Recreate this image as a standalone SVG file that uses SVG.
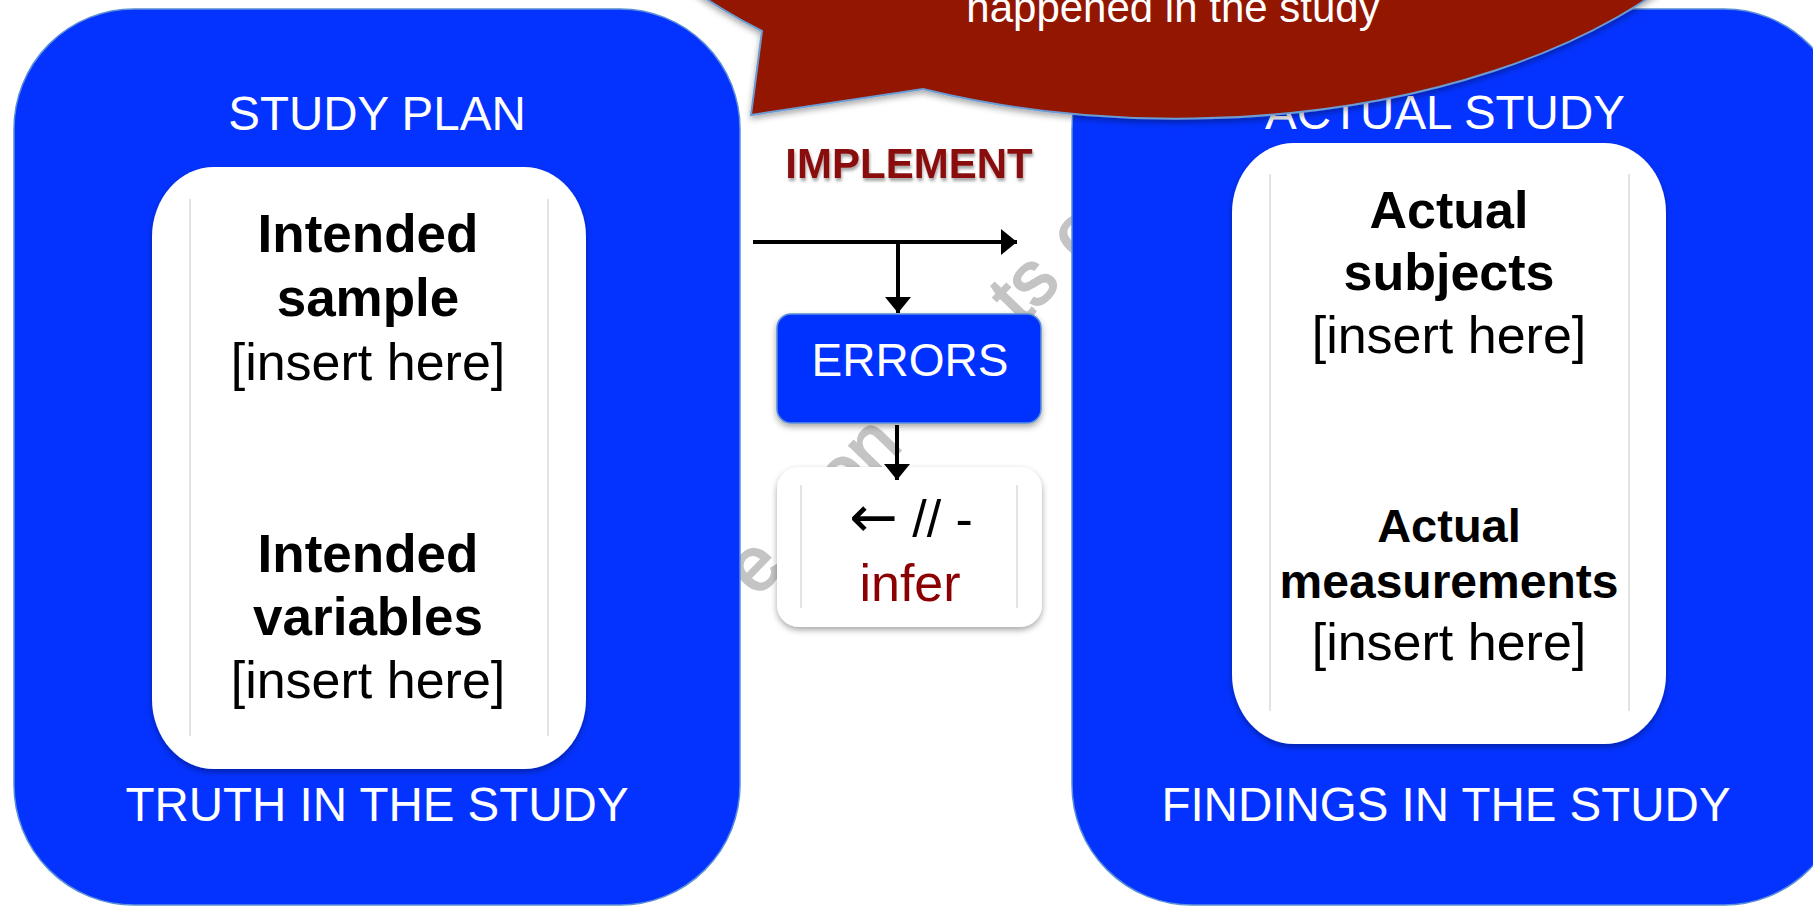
<svg xmlns="http://www.w3.org/2000/svg" width="1813" height="908" viewBox="0 0 1813 908">
<style>
.t{font-family:"Liberation Sans",Arial,Helvetica,sans-serif}
.hd{font-size:47.5px;text-anchor:middle;fill:#ffffff}
.bd{font-weight:bold;text-anchor:middle;fill:#000000}
.rg{font-size:52px;text-anchor:middle;fill:#000000}
.outer{fill:#0433ff;stroke:#5a8ed6;stroke-width:1.5}
.inner{fill:#ffffff}
.sep{stroke:#c8c8c8;stroke-width:1}
.conn{stroke:#000000;stroke-width:4;fill:none}
</style>
<defs>
<filter id="sh" x="-10%" y="-10%" width="120%" height="125%">
<feDropShadow dx="0" dy="3" stdDeviation="3" flood-color="#000000" flood-opacity="0.35"/>
</filter>
<filter id="tsh" x="-5%" y="-20%" width="110%" height="150%">
<feDropShadow dx="1" dy="3" stdDeviation="1.5" flood-color="#000000" flood-opacity="0.35"/>
</filter>
<marker id="ah" viewBox="0 0 16 26" refX="16" refY="13" markerWidth="16" markerHeight="26" markerUnits="userSpaceOnUse" orient="auto">
<path d="M0,0 L16,13 L0,26 z" fill="#000000"/>
</marker>
</defs>
<rect x="0" y="0" width="1813" height="908" fill="#ffffff"/>

<!-- watermark fragments (mostly hidden behind the boxes) -->
<text class="t" transform="translate(756.4,598.6) rotate(-45.8)" font-size="76" fill="#c4c4c4" stroke="#c4c4c4" stroke-width="2.2"><tspan x="0" y="0">e</tspan><tspan x="127" y="0">on</tspan><tspan x="380" y="0">ts</tspan><tspan x="465" y="0">o</tspan></text>

<g id="study-plan">
<rect class="outer" x="14" y="9" width="726" height="896" rx="120" ry="120"/>
<text class="t hd" x="377" y="130">STUDY PLAN</text>
<text class="t hd" x="377" y="821">TRUTH IN THE STUDY</text>
</g>
<g id="intended">
<rect class="inner" x="152" y="167" width="434" height="602" rx="62" ry="70" filter="url(#sh)"/>
<line class="sep" x1="190" y1="199" x2="190" y2="736"/>
<line class="sep" x1="548" y1="199" x2="548" y2="736"/>
<text class="t bd" x="368" y="252" font-size="53">Intended</text>
<text class="t bd" x="368" y="316" font-size="53">sample</text>
<text class="t rg" x="368" y="380">[insert here]</text>
<text class="t bd" x="368" y="572" font-size="53">Intended</text>
<text class="t bd" x="368" y="635" font-size="53">variables</text>
<text class="t rg" x="368" y="698">[insert here]</text>
</g>

<g id="actual-study">
<rect class="outer" x="1072" y="9" width="772" height="896" rx="120" ry="120"/>
<text class="t hd" x="1445" y="129">ACTUAL STUDY</text>
<text class="t hd" x="1446" y="821">FINDINGS IN THE STUDY</text>
</g>
<g id="actual">
<rect class="inner" x="1232" y="143" width="434" height="601" rx="62" ry="70" filter="url(#sh)"/>
<line class="sep" x1="1270" y1="174" x2="1270" y2="711"/>
<line class="sep" x1="1629" y1="174" x2="1629" y2="711"/>
<text class="t bd" x="1449" y="228" font-size="52">Actual</text>
<text class="t bd" x="1449" y="290" font-size="52">subjects</text>
<text class="t rg" x="1449" y="353">[insert here]</text>
<text class="t bd" x="1449" y="542" font-size="47">Actual</text>
<text class="t bd" x="1449" y="598" font-size="48">measurements</text>
<text class="t rg" x="1449" y="660">[insert here]</text>
</g>

<g id="implement">
<text class="t" x="909" y="178" font-size="42" font-weight="bold" text-anchor="middle" fill="#8a0b0b" filter="url(#tsh)">IMPLEMENT</text>
</g>

<g id="errors">
<rect x="777" y="314" width="264" height="109" rx="14" ry="14" fill="#0433ff" stroke="#5a8ed6" stroke-width="1.5" filter="url(#sh)"/>
<text class="t" x="910" y="376" font-size="46" text-anchor="middle" fill="#ffffff">ERRORS</text>
</g>

<g id="infer">
<rect x="777" y="467" width="265" height="160" rx="22" ry="22" fill="#ffffff" filter="url(#sh)"/>
<line class="sep" x1="801" y1="485" x2="801" y2="608"/>
<line class="sep" x1="1017" y1="485" x2="1017" y2="608"/>
<text class="t" x="911" y="537" font-size="52" text-anchor="middle" fill="#000000"><tspan font-family="'DejaVu Sans',sans-serif" font-size="58">←</tspan> // -</text>
<text class="t" x="910" y="601" font-size="52" text-anchor="middle" fill="#8b0000">infer</text>
</g>

<g id="connectors">
<line class="conn" x1="753" y1="242" x2="1017" y2="242" marker-end="url(#ah)"/>
<line class="conn" x1="898" y1="242" x2="898" y2="313" marker-end="url(#ah)"/>
<line class="conn" x1="897" y1="425" x2="897" y2="480" marker-end="url(#ah)"/>
</g>

<g id="callout">
<path d="M762,31 L751,115 L923,89 A600,316 0 1 0 762,31 Z" fill="#931200" stroke="#6c9bd2" stroke-width="2" filter="url(#sh)"/>
<text class="t" x="1173" y="22" font-size="42" text-anchor="middle" fill="#ffffff">happened in the study</text>
</g>
</svg>
